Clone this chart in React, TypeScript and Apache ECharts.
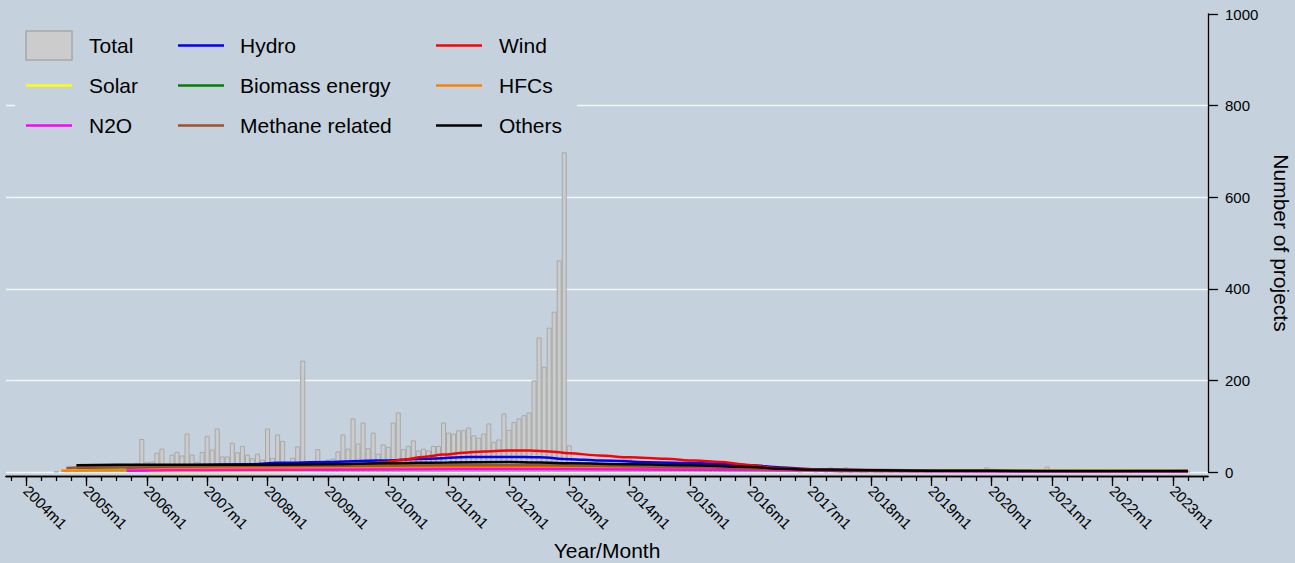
import React, { useEffect, useRef } from "react";
import * as echarts from "echarts";

// Month index: 0 = 2004m1
const FIRST_MONTH = -4; // 2003m9
const LAST_MONTH = 235; // 2023m8

const monthLabel = (m: number) =>
  `${2004 + Math.floor(m / 12)}m${(((m % 12) + 12) % 12) + 1}`;

const categories: string[] = [];
for (let m = FIRST_MONTH; m <= LAST_MONTH; m++) categories.push(monthLabel(m));

const yTicks = [0, 200, 400, 600, 800, 1000];

// Total projects per month, starting at month index TOTAL_START (2004m7)
const TOTAL_START = 6;
const totalValues = [
  // 2004m7 - 2005m9
  1, 0, 2, 0, 3, 2, 4, 3, 5, 4, 6, 5, 7, 6, 9,
  // 2005m10 - 2005m12
  8, 19, 72,
  // 2006
  22, 23, 42, 51, 18, 38, 44, 36, 84, 38, 22, 44,
  // 2007
  79, 49, 95, 34, 34, 64, 43, 57, 38, 30, 40, 27,
  // 2008
  95, 31, 82, 68, 8, 31, 56, 243, 10, 8, 50, 12,
  // 2009
  27, 29, 45, 82, 51, 117, 62, 108, 52, 86, 40, 60,
  // 2010
  55, 108, 130, 50, 57, 69, 47, 51, 47, 57, 57, 108,
  // 2011
  86, 84, 91, 92, 97, 80, 75, 84, 106, 66, 71, 128,
  // 2012
  92, 109, 117, 124, 130, 200, 294, 230, 315, 350, 462, 698,
  // 2013
  58, 18, 15, 20, 14, 17, 12, 16, 13, 15, 18, 29,
  // 2014
  28, 14, 12, 15, 11, 13, 10, 12, 9, 11, 10, 13,
  // 2015
  8, 10, 9, 11, 8, 7, 9, 8, 6, 7, 18, 6,
  // 2016
  5, 4, 5, 3, 4, 3, 2, 3, 2, 2, 1, 2,
  // 2017
  3, 1, 2, 1, 10, 2, 1, 10, 1, 2, 1, 1,
  // 2018
  2, 1, 1, 2, 1, 0, 1, 2, 1, 1, 0, 1,
  // 2019
  1, 2, 1, 0, 1, 1, 2, 1, 0, 1, 2, 10,
  // 2020
  7, 1, 1, 0, 1, 2, 1, 1, 0, 1, 2, 12,
  // 2021
  2, 1, 0, 1, 1, 2, 1, 0, 1, 1, 0, 1,
  // 2022
  1, 0, 1, 2, 1, 0, 1, 1, 0, 1, 1, 0,
  // 2023m1 - 2023m4
  1, 1, 0, 1,
];

// Smoothed monthly counts by type: [month index, value]
const hydro = [
  [12, 14], [30, 15], [45, 17], [50, 20], [60, 22], [70, 25], [80, 29], [88, 33],
  [96, 33], [102, 32], [108, 28], [114, 25], [126, 21], [138, 18], [144, 15],
  [150, 10], [156, 6], [168, 4], [180, 3], [204, 2.5], [225, 2.5], [231, 2],
];
const wind = [
  [20, 5], [36, 6], [52, 8], [60, 11], [66, 15], [71, 21], [75, 27], [79, 33],
  [83, 38], [87, 42], [91, 45], [96, 47], [100, 47], [104, 45], [108, 41],
  [114, 36], [120, 32], [127, 29], [133, 25], [138, 22], [143, 16], [149, 9],
  [153, 7], [160, 5], [176, 4], [190, 3], [210, 2], [231, 2],
];
const solar = [
  [24, 1], [48, 2], [60, 5], [72, 9], [84, 10], [96, 11], [108, 10], [120, 8],
  [132, 7], [144, 6], [156, 4], [168, 3.5], [192, 3.5], [210, 4], [222, 3.5], [231, 3],
];
const biomass = [
  [10, 9], [24, 11], [48, 12.5], [72, 13.5], [96, 14.5], [108, 13.5], [132, 10.5],
  [150, 5.5], [168, 2.5], [200, 2], [231, 1.5],
];
const hfcs = [
  [7, 3], [20, 4], [30, 7], [48, 9], [72, 10], [96, 11], [108, 10], [132, 7],
  [150, 4], [168, 2], [231, 1],
];
const n2o = [
  [20, 3], [36, 4], [60, 5], [84, 6], [108, 6], [132, 5], [150, 4], [168, 2],
  [190, 1], [231, 1],
];
const methane = [
  [8, 9], [24, 12], [48, 13], [72, 14], [96, 15], [108, 14], [132, 11], [150, 6],
  [168, 3], [231, 2],
];
const others = [
  [10, 15], [24, 16], [48, 16], [60, 17], [72, 19], [84, 21], [96, 22], [108, 19],
  [120, 17], [132, 15], [144, 11], [150, 7], [156, 5], [168, 4], [180, 3],
  [192, 2.5], [204, 2], [231, 2],
];

const lineSeries = [
  { name: "Hydro", color: "#0000ff", data: hydro },
  { name: "Wind", color: "#ff0000", data: wind },
  { name: "Solar", color: "#ffff00", data: solar },
  { name: "Biomass energy", color: "#008000", data: biomass },
  { name: "HFCs", color: "#ff8000", data: hfcs },
  { name: "N2O", color: "#ff00ff", data: n2o },
  { name: "Methane related", color: "#a0522d", data: methane },
  { name: "Others", color: "#000000", data: others },
];

// Legend layout: three columns, three rows
const legendColumns = [
  { icon: 26, text: 89, items: ["Total", "Solar", "N2O"] },
  { icon: 178, text: 240, items: ["Hydro", "Biomass energy", "Methane related"] },
  { icon: 436, text: 499, items: ["Wind", "HFCs", "Others"] },
];
const legendRows = [45.5, 85.5, 125.5];

const BG = "#c5d2de";
const BAR_FILL = "#cccccc";
const BAR_EDGE = "#a8a8a8";
const FONT = "'Liberation Sans', Arial, Helvetica, sans-serif";

export default function App() {
  const ref = useRef<HTMLDivElement>(null);

  useEffect(() => {
    document.body.style.margin = "0";
    document.body.style.overflow = "hidden";
    if (!ref.current) return;
    const chart = echarts.init(ref.current, undefined, { renderer: "svg" });

    const barData = totalValues.map((v, i) => [
      monthLabel(TOTAL_START + i),
      v === 0 ? "-" : v,
    ]);

    const isJan = (_i: number, v: string) => String(v).endsWith("m1");
    const isQuarter = (i: number) => (((i + FIRST_MONTH) % 3) + 3) % 3 === 0;

    const colorOf = (name: string) =>
      lineSeries.find((s) => s.name === name)?.color || "#000";

    const legendElements: any[] = [
      {
        type: "rect",
        left: 15,
        top: 15,
        z: 3,
        silent: true,
        shape: { x: 0, y: 0, width: 562, height: 136 },
        style: { fill: BG },
      },
    ];
    legendColumns.forEach((col) => {
      col.items.forEach((name, r) => {
        const cy = legendRows[r];
        if (name === "Total") {
          legendElements.push({
            type: "rect",
            z: 4,
            silent: true,
            shape: { x: col.icon, y: cy - 14.5, width: 46, height: 29 },
            style: { fill: BAR_FILL, stroke: BAR_EDGE, lineWidth: 1.5 },
          });
        } else {
          legendElements.push({
            type: "line",
            z: 4,
            silent: true,
            shape: { x1: col.icon, y1: cy, x2: col.icon + 46, y2: cy },
            style: { stroke: colorOf(name), lineWidth: 2.5 },
          });
        }
        legendElements.push({
          type: "text",
          z: 4,
          silent: true,
          style: {
            text: name,
            x: col.text,
            y: cy,
            fill: "#000",
            fontSize: 21,
            fontFamily: FONT,
            verticalAlign: "middle",
            align: "left",
          },
        });
      });
    });

    const option: any = {
      animation: false,
      backgroundColor: BG,
      textStyle: { fontFamily: FONT, color: "#000" },
      grid: {
        left: 6,
        right: 87,
        top: 14,
        bottom: 91,
        containLabel: false,
        outerBoundsMode: "none",
      },
      legend: { show: false },
      xAxis: [
        {
          type: "category",
          data: categories,
          boundaryGap: false,
          position: "bottom",
          offset: 4,
          axisLine: { show: true, onZero: false, lineStyle: { color: "#000", width: 1.3 } },
          axisTick: { show: true, interval: isJan, length: 10, lineStyle: { color: "#000", width: 1.3 } },
          axisLabel: {
            interval: isJan,
            rotate: -45,
            fontSize: 15,
            color: "#000",
            margin: 12,
            fontFamily: FONT,
          },
          splitLine: { show: false },
          name: "Year/Month",
          nameLocation: "middle",
          nameGap: 64,
          nameTextStyle: { fontSize: 21, color: "#000", fontFamily: FONT },
        },
        {
          type: "category",
          data: categories,
          boundaryGap: false,
          position: "bottom",
          offset: 4,
          axisLine: { show: true, onZero: false, lineStyle: { color: "#000", width: 1.3 } },
          axisTick: { show: true, interval: isQuarter, length: 5, lineStyle: { color: "#000", width: 1.3 } },
          axisLabel: { show: false },
          splitLine: { show: false },
        },
      ],
      yAxis: {
        type: "value",
        position: "right",
        min: yTicks[0],
        max: yTicks[yTicks.length - 1],
        interval: yTicks[1] - yTicks[0],
        axisLine: { show: true, lineStyle: { color: "#000", width: 1.3 } },
        axisTick: { show: true, length: 10, lineStyle: { color: "#000", width: 1.3 } },
        axisLabel: {
          fontSize: 15,
          color: "#000",
          margin: 17,
          fontFamily: FONT,
          formatter: (v: number) => String(v),
        },
        splitLine: { show: true, showMaxLine: false, lineStyle: { color: "#f3f6f8", width: 1.3 } },
        name: "Number of projects",
        nameLocation: "middle",
        nameRotate: -90,
        nameGap: 63,
        nameTextStyle: { fontSize: 21, color: "#000", fontFamily: FONT },
      },
      graphic: legendElements,
      series: [
        {
          name: "Total",
          type: "bar",
          xAxisIndex: 0,
          data: barData,
          barWidth: "100%",
          itemStyle: { color: BAR_FILL, borderColor: BAR_EDGE, borderWidth: 1 },
        },
        ...lineSeries.map((s) => ({
          name: s.name,
          type: "line",
          xAxisIndex: 0,
          data: s.data.map(([m, v]) => [monthLabel(m), v]),
          showSymbol: false,
          symbol: "none",
          smooth: 0.35,
          smoothMonotone: "x",
          color: s.color,
          lineStyle: { color: s.color, width: 2.5 },
        })),
      ],
    };

    chart.setOption(option);
    return () => chart.dispose();
  }, []);

  return (
    <div
      ref={ref}
      style={{
        position: "absolute",
        left: 0,
        top: 0,
        width: 1295,
        height: 563,
        overflow: "hidden",
      }}
    />
  );
}
